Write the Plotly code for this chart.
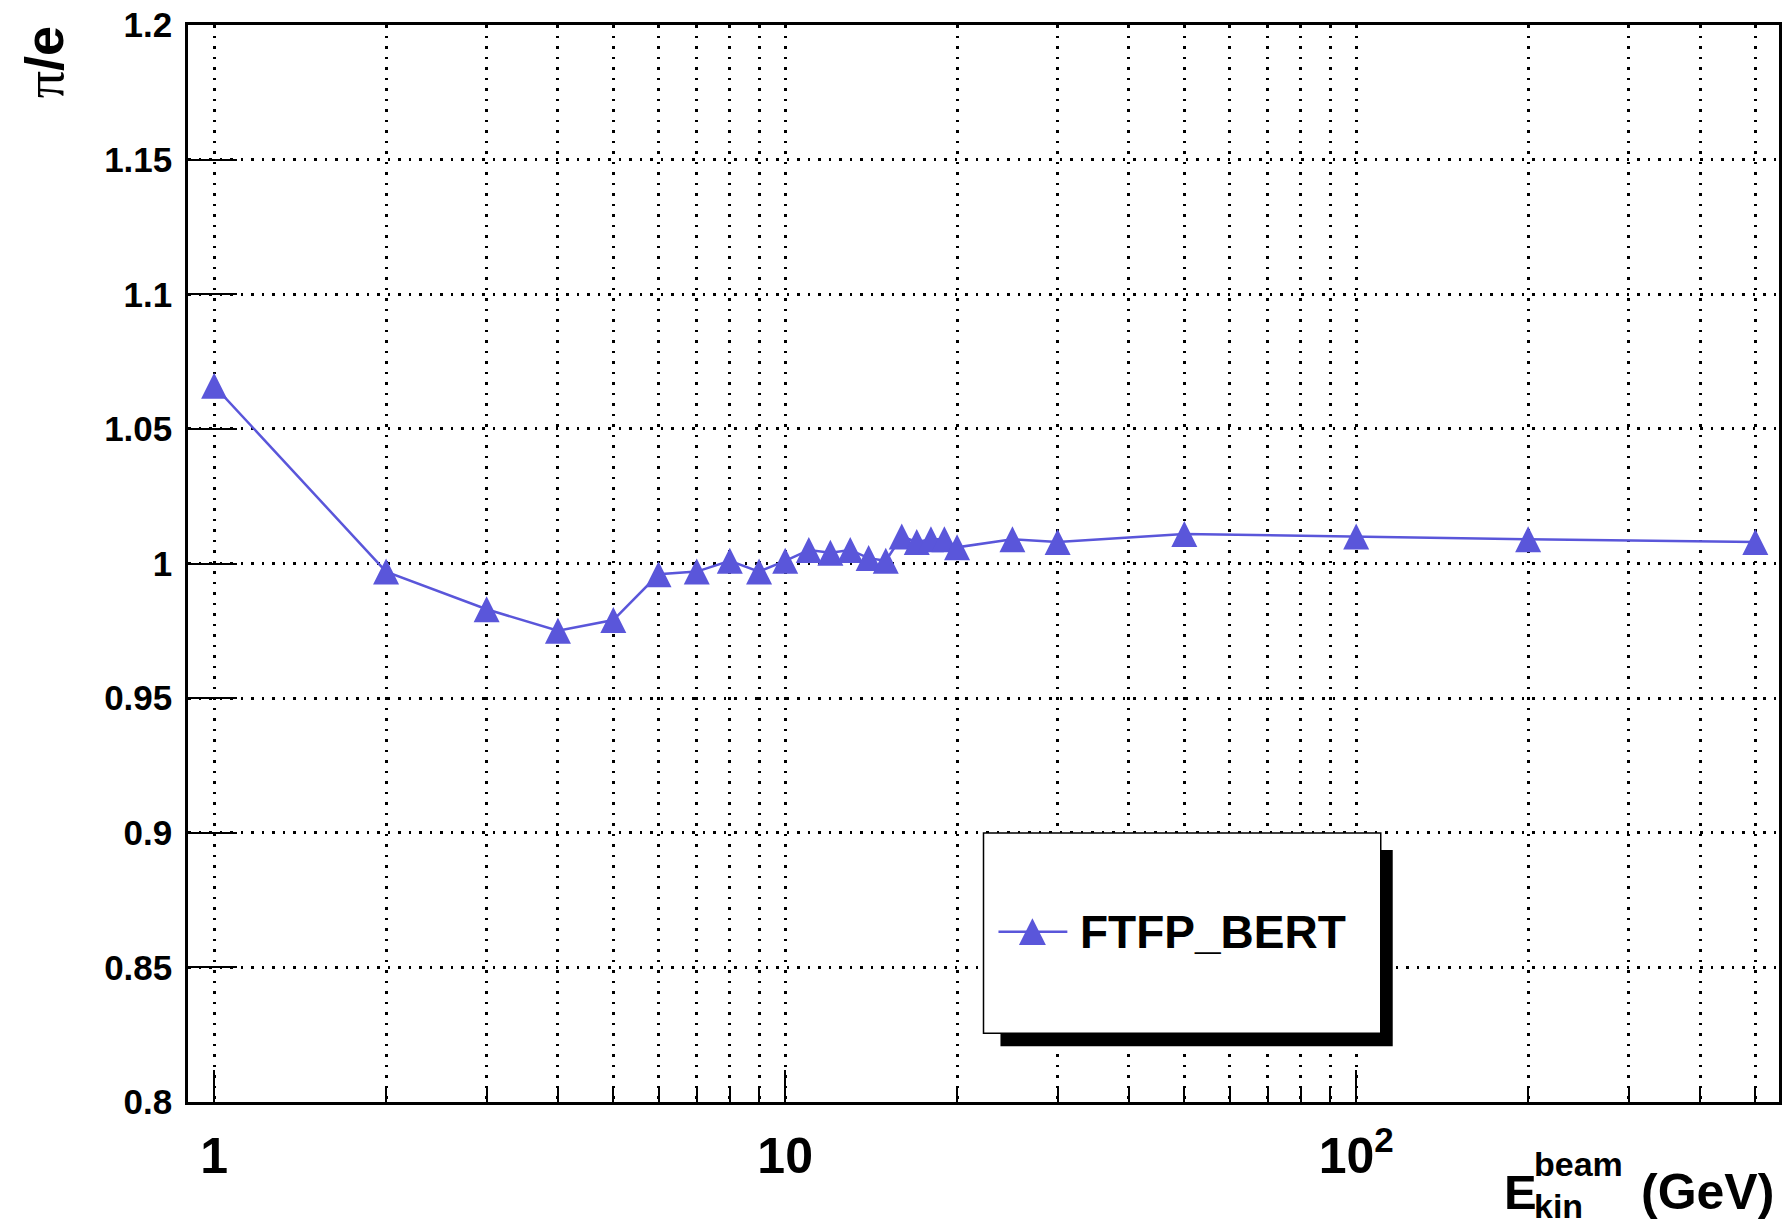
import plotly.graph_objects as go

# Beam kinetic energy (GeV) and pion/electron response ratio
energy_gev = [1, 2, 3, 4, 5, 6, 7, 8, 9, 10, 11, 12, 13, 14, 15, 16, 17, 18, 19, 20,
              25, 30, 50, 100, 200, 500]
pi_over_e = [1.066, 0.997, 0.983, 0.975, 0.979, 0.996, 0.997, 1.001, 0.997, 1.001,
             1.005, 1.004, 1.005, 1.002, 1.001, 1.010, 1.008, 1.009, 1.009, 1.006,
             1.009, 1.008, 1.011, 1.010, 1.009, 1.008]
series_name = "FTFP_BERT"

x_major_ticks = [1, 10, 100]
x_major_text = ["1", "10", "10<sup>2</sup>"]
x_minor_ticks = [2, 3, 4, 5, 6, 7, 8, 9, 20, 30, 40, 50, 60, 70, 80, 90, 200, 300, 400, 500]
y_ticks = [0.8, 0.85, 0.9, 0.95, 1.0, 1.05, 1.1, 1.15, 1.2]
y_text = ["0.8", "0.85", "0.9", "0.95", "1", "1.05", "1.1", "1.15", "1.2"]

W, H = 1787, 1225
L, R, T, B = 188, 1782, 21, 1102
PW, PH = R - L, B - T


def px(x):
    return (x - L) / PW


def py(y):
    return (B - y) / PH


COLOR = "#5a56da"
FONT = "Liberation Sans, Arial, sans-serif"
DOT = "2.5px,8px"
MARKER = 26

fig = go.Figure()
# upward triangle centred on each point (rotated arrow pushed back by half its height)
fig.add_trace(go.Scatter(
    x=energy_gev, y=pi_over_e, name=series_name, mode="lines+markers",
    showlegend=False,
    line=dict(color=COLOR, width=2.5, backoff=0),
    marker=dict(symbol="arrow-down", angle=180, standoff=MARKER / 2, size=MARKER,
                color=COLOR, line=dict(width=0)),
))

axis_common = dict(
    showline=True, linecolor="black", linewidth=2.5, mirror=True,
    ticks="inside", tickcolor="black", tickwidth=2,
    showgrid=True, gridcolor="black", gridwidth=2.5, griddash=DOT,
    zeroline=False,
)

fig.update_xaxes(
    type="log", range=[-0.0458, 2.7404],
    tickmode="array", tickvals=x_major_ticks, ticktext=x_major_text,
    ticklen=32, ticklabelstandoff=8,
    tickfont=dict(family=FONT, size=50, color="black", weight="bold"),
    minor=dict(tickmode="array", tickvals=x_minor_ticks, ticks="inside", ticklen=16,
               tickwidth=2, tickcolor="black", showgrid=True, gridcolor="black",
               gridwidth=2.5, griddash=DOT),
    **axis_common,
)
fig.update_yaxes(
    range=[0.8, 1.2], tickmode="array", tickvals=y_ticks, ticktext=y_text,
    ticklen=49, ticklabelstandoff=6,
    tickfont=dict(family=FONT, size=35, color="black", weight="bold"),
    **axis_common,
)

# Legend frame with drop shadow, sample line and triangle
leg_cx, leg_cy, half = 1034, 931, 13.5
shapes = [
    dict(type="rect", xref="paper", yref="paper", layer="above",
         x0=px(1002), x1=px(1395), y0=py(1046), y1=py(849),
         fillcolor="black", line=dict(width=0)),
    dict(type="rect", xref="paper", yref="paper", layer="above",
         x0=px(985), x1=px(1383), y0=py(1033), y1=py(832),
         fillcolor="white", line=dict(color="black", width=1.5)),
    dict(type="line", xref="paper", yref="paper", layer="above",
         x0=px(1000), x1=px(1069), y0=py(leg_cy), y1=py(leg_cy),
         line=dict(color=COLOR, width=2.5)),
    dict(type="path", xref="paper", yref="paper", layer="above",
         path=(f"M{px(leg_cx)},{py(leg_cy - half)} "
               f"L{px(leg_cx - half)},{py(leg_cy + half)} "
               f"L{px(leg_cx + half)},{py(leg_cy + half)} Z"),
         fillcolor=COLOR, line=dict(width=0)),
]


def label(text, x, y, size, **kw):
    return dict(text=text, xref="paper", yref="paper", x=px(x), y=py(y),
                xanchor=kw.pop("xanchor", "left"), yanchor=kw.pop("yanchor", "middle"),
                showarrow=False, borderpad=0,
                font=dict(family=FONT, size=size, color="black", weight="bold"), **kw)


annotations = [
    # legend label
    label(series_name, 1081, 931, 46),
    # y-axis title
    label("<span style='font-family:Liberation Serif;font-weight:normal'>π</span>/e",
          44, T, 54, xanchor="center", yanchor="top", textangle=-90),
    # x-axis title: E with stacked super/subscript
    label("E", 1505, 1192, 49),
    label("beam", 1536, 1164, 34),
    label("kin", 1536, 1206, 34),
    label("(GeV)", 1643, 1192, 50),
]

fig.update_layout(
    width=W, height=H,
    margin=dict(l=L, r=W - R, t=T, b=H - B, pad=0),
    paper_bgcolor="white", plot_bgcolor="white",
    shapes=shapes, annotations=annotations,
    showlegend=False,
)

fig.write_html("out.html")
